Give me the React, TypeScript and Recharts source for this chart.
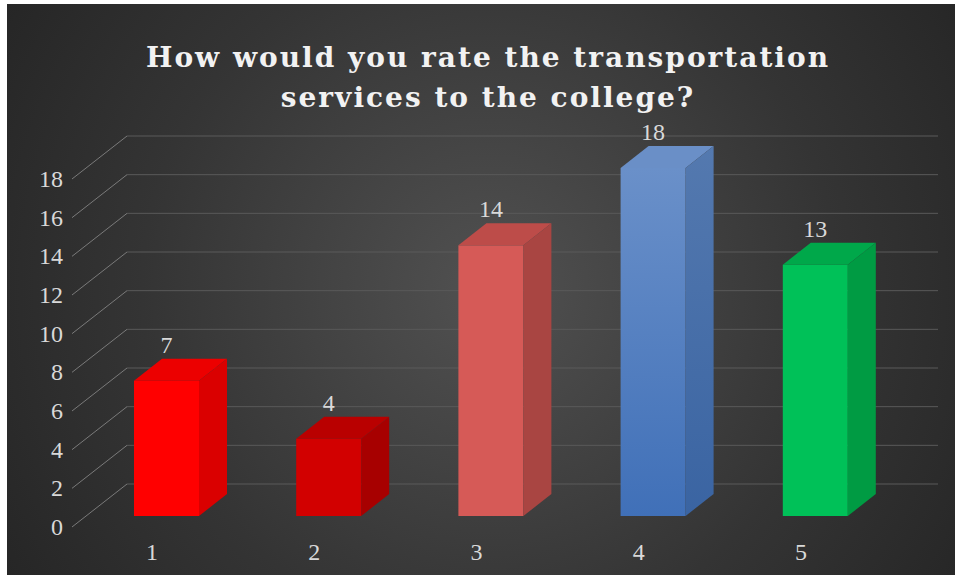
import { Bar, BarChart, CartesianGrid, LabelList, XAxis, YAxis } from "recharts";

const ratings = ["1", "2", "3", "4", "5"];
const counts = [7, 4, 14, 18, 13];
const yTicks = [0, 2, 4, 6, 8, 10, 12, 14, 16, 18];

// front / top / side colour of each box
const faces = [
  { front: "#FF0000", top: "#EC0000", side: "#DA0000" },
  { front: "#D20000", top: "#B90000", side: "#A70000" },
  { front: "#D65A57", top: "#BD4C49", side: "#A94542" },
  { front: "url(#blueFront)", top: "#6A8FC7", side: "url(#blueSide)" },
  { front: "#00C158", top: "#00A84A", side: "#009B43" },
];

const data = ratings.map((rating, i) => ({ rating, count: counts[i] }));

const DX = 28; // box depth
const DY = -22;
const BACK_X = 42; // back wall offset
const BACK_Y = -32;

const AXIS_TEXT = "#D9D9D9";
const AXIS_FONT = "'Liberation Serif', 'DejaVu Serif', serif";
const AXIS_SIZE = 24;

function Box(props: any) {
  const { x, y, width, height, payload } = props;
  const c = faces[ratings.indexOf(payload.rating)];
  const r = x + width;
  const b = y + height;
  return (
    <g>
      <rect x={x} y={y} width={width} height={height} fill={c.front} />
      <polygon
        points={`${x},${y} ${x + DX},${y + DY} ${r + DX},${y + DY} ${r},${y}`}
        fill={c.top}
      />
      <polygon
        points={`${r},${y} ${r + DX},${y + DY} ${r + DX},${b + DY} ${r},${b}`}
        fill={c.side}
      />
    </g>
  );
}

function YTick(props: any) {
  const { x, y, payload } = props;
  return (
    <g>
      <line x1={x - 13} y1={y + 11} x2={x + BACK_X} y2={y + BACK_Y} stroke="#7A7A7A" strokeWidth={1} />
      <text x={x - 22} y={y + 19} textAnchor="end" fill={AXIS_TEXT} fontSize={AXIS_SIZE} fontFamily={AXIS_FONT}>
        {payload.value}
      </text>
    </g>
  );
}

function XTick(props: any) {
  const { x, y, payload } = props;
  return (
    <text x={x - 14} y={y + 44} textAnchor="middle" fill={AXIS_TEXT} fontSize={AXIS_SIZE} fontFamily={AXIS_FONT}>
      {payload.value}
    </text>
  );
}

function BackLine(props: any) {
  const { x1, x2, y1 } = props;
  return <line x1={x1 + BACK_X} x2={x2 + BACK_X} y1={y1 + BACK_Y} y2={y1 + BACK_Y} stroke="#5A5A5A" strokeWidth={1} />;
}

function ValueLabel(props: any) {
  const { x, y, width, value } = props;
  return (
    <text x={x + width / 2} y={y - 28} textAnchor="middle" fill={AXIS_TEXT} fontSize={AXIS_SIZE} fontFamily={AXIS_FONT}>
      {value}
    </text>
  );
}

export default function App() {
  return (
    <div style={{ position: "absolute", left: 0, top: 0, width: 955, height: 575, background: "#fff" }}>
      <div
        style={{
          position: "absolute",
          left: 7,
          top: 4,
          width: 948,
          height: 571,
          background: "radial-gradient(circle at 483px 286px, #515151 0%, #444444 28%, #343434 62%, #262626 100%)",
        }}
      />
      <div
        style={{
          position: "absolute",
          left: 0,
          top: 38,
          width: 976,
          textAlign: "center",
          color: "#F2F2F2",
          fontFamily: "'DejaVu Serif', serif",
          fontWeight: "bold",
          fontSize: 28,
          letterSpacing: 2,
          lineHeight: "40px",
        }}
      >
        How would you rate the transportation
        <br />
        services to the college?
      </div>
      <div style={{ position: "absolute", left: 0, top: 0 }}>
        <BarChart width={955} height={575} data={data} margin={{ top: 168, right: 59, bottom: 29, left: 25 }}>
          <defs>
            <linearGradient id="blueFront" x1="0" y1="0" x2="0" y2="1">
              <stop offset="0%" stopColor="#6A90C9" />
              <stop offset="100%" stopColor="#4070B8" />
            </linearGradient>
            <linearGradient id="blueSide" x1="0" y1="0" x2="0" y2="1">
              <stop offset="0%" stopColor="#5479AF" />
              <stop offset="100%" stopColor="#3A64A2" />
            </linearGradient>
          </defs>
          <CartesianGrid vertical={false} horizontal={BackLine} />
          <XAxis
            dataKey="rating"
            axisLine={false}
            tickLine={false}
            tickSize={0}
            tickMargin={0}
            height={30}
            tick={XTick}
            interval={0}
          />
          <YAxis
            domain={[0, 18]}
            ticks={yTicks}
            axisLine={false}
            tickLine={false}
            tickSize={0}
            tickMargin={0}
            width={60}
            tick={YTick}
            interval={0}
          />
          <Bar dataKey="count" barSize={65} shape={Box} isAnimationActive={false}>
            <LabelList dataKey="count" content={ValueLabel} />
          </Bar>
        </BarChart>
      </div>
    </div>
  );
}
